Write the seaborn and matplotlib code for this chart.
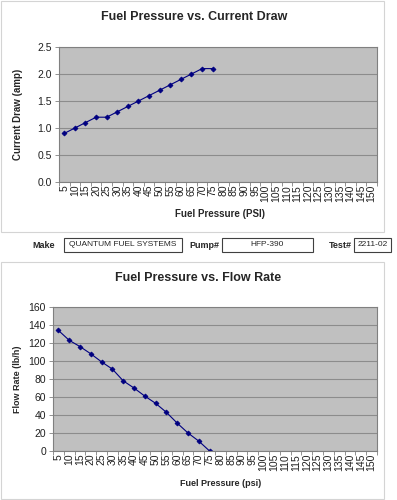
import numpy as np
import pandas as pd
import matplotlib.pyplot as plt
import seaborn as sns
from matplotlib.patches import Rectangle
from matplotlib.ticker import FormatStrFormatter

# axis categories (psi) shown on both charts
categories = [str(p) for p in range(5, 155, 5)]

# measured points
pressure = ["5", "10", "15", "20", "25", "30", "35", "40", "45", "50", "55", "60", "65", "70", "75"]
current_amp = [0.9, 1.0, 1.1, 1.2, 1.2, 1.3, 1.4, 1.5, 1.6, 1.7, 1.8, 1.9, 2.0, 2.1, 2.1]
flow_lbh = [134, 123, 116, 108, 99, 91, 78, 70, 61, 53, 43, 31, 20, 11, 0]

make = "QUANTUM FUEL SYSTEMS"
pump = "HFP-390"
test = "2211-02"

sns.set_theme(style="white")
plt.rcParams['font.family'] = ['Liberation Sans', 'DejaVu Sans']

NAVY = "#000080"
PLOT_BG = "#c0c0c0"

fig = plt.figure(figsize=(3.97, 5.0), dpi=100)

# chart area borders
for y0, h in [(0.536, 0.462), (0.002, 0.474)]:
    fig.patches.append(Rectangle((0.002, y0), 0.966, h, transform=fig.transFigure,
                                 fill=False, edgecolor="#d4d4d4", linewidth=0.8))

df = pd.DataFrame({"pressure": pressure, "current": current_amp, "flow": flow_lbh})


def style_axes(ax, ylim, yticks):
    ax.set_facecolor(PLOT_BG)
    ax.set_xlim(-0.5, len(categories) - 0.5)
    ax.set_ylim(*ylim)
    ax.set_yticks(yticks)
    ax.set_xticks(range(len(categories)))
    ax.set_xticklabels(categories, rotation=90, fontsize=7.5, color="#202020")
    ax.set_xticks(np.arange(-0.5, len(categories), 1), minor=True)
    ax.tick_params(axis="x", which="major", length=0, pad=2)
    ax.tick_params(axis="x", which="minor", length=3, width=0.6, color="#808080", bottom=True)
    ax.tick_params(axis="y", length=3, width=0.6, color="#808080", left=True,
                   labelsize=7.5, labelcolor="#202020", pad=2)
    ax.grid(axis="y", color="#8c8c8c", linewidth=0.8)
    ax.set_axisbelow(True)
    for s in ax.spines.values():
        s.set_color("#808080")
        s.set_linewidth(0.8)
    ax.set_xlabel("")
    ax.set_ylabel("")


# top chart
ax1 = fig.add_axes([0.1486, 0.636, 0.801, 0.270])
sns.pointplot(data=df, x="pressure", y="current", order=categories, ax=ax1,
              color=NAVY, markers="D", markersize=2.5, linewidth=0.8)
style_axes(ax1, (0, 2.5), np.arange(0, 2.51, 0.5))
ax1.yaxis.set_major_formatter(FormatStrFormatter("%.1f"))
fig.text(0.49, 0.966, "Fuel Pressure vs. Current Draw", ha="center", va="center",
         fontsize=9, fontweight="bold")
fig.text(0.555, 0.572, "Fuel Pressure (PSI)", ha="center", va="center",
         fontsize=7, fontweight="bold")
fig.text(0.046, 0.771, "Current Draw (amp)", ha="center", va="center",
         rotation=90, fontsize=7, fontweight="bold")

# info row
row_y = 1 - 245 / 500
fig.text(44 / 397, row_y, "Make", ha="center", va="center", fontsize=6.5, fontweight="bold")
fig.text(204 / 397, row_y, "Pump#", ha="center", va="center", fontsize=6.5, fontweight="bold")
fig.text(340 / 397, row_y, "Test#", ha="center", va="center", fontsize=6.5, fontweight="bold")
for x0, x1, txt in [(64, 182, make), (222, 313, pump), (354, 391, test)]:
    fig.patches.append(Rectangle((x0 / 397, 1 - 252 / 500), (x1 - x0) / 397, 14 / 500,
                                 transform=fig.transFigure, fill=False,
                                 edgecolor="#404040", linewidth=0.8))
    fig.text((x0 + x1) / 2 / 397, row_y, txt, ha="center", va="center", fontsize=6)

# bottom chart
ax2 = fig.add_axes([0.1335, 0.098, 0.816, 0.288])
sns.pointplot(data=df, x="pressure", y="flow", order=categories, ax=ax2,
              color=NAVY, markers="D", markersize=2.5, linewidth=0.8)
style_axes(ax2, (0, 160), np.arange(0, 161, 20))
fig.text(0.5, 0.444, "Fuel Pressure vs. Flow Rate", ha="center", va="center",
         fontsize=9, fontweight="bold")
fig.text(0.555, 0.034, "Fuel Pressure (psi)", ha="center", va="center",
         fontsize=6.5, fontweight="bold")
fig.text(0.043, 0.242, "Flow Rate (lb/h)", ha="center", va="center",
         rotation=90, fontsize=6.5, fontweight="bold")

fig.savefig("out.png", dpi=100)
